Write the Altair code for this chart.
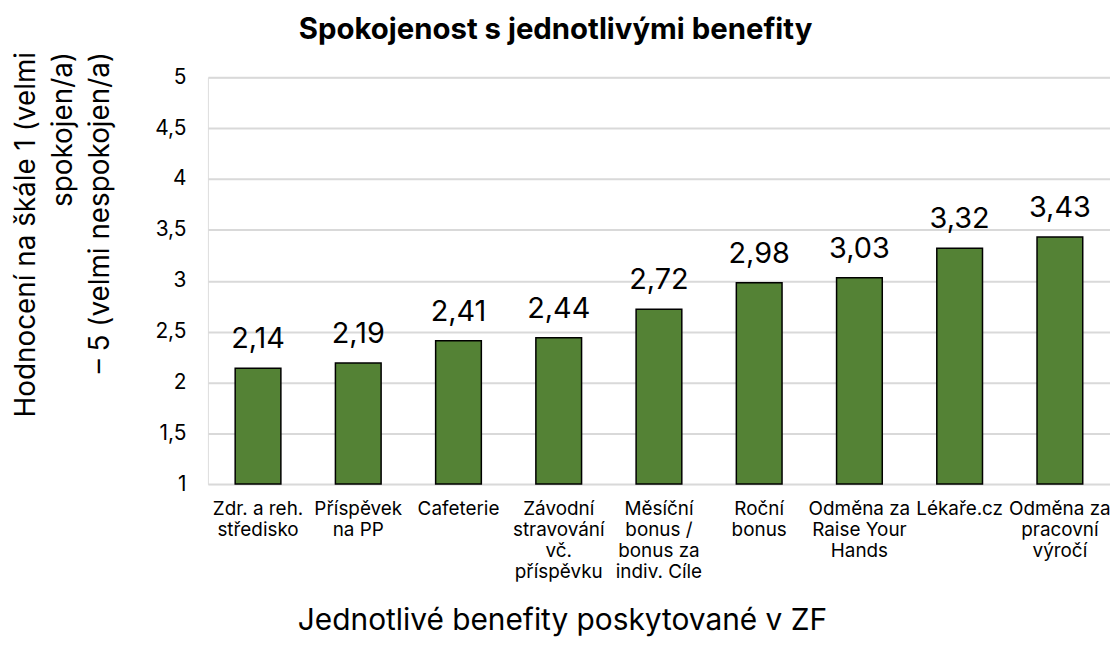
import altair as alt
import pandas as pd

categories = [
    "Zdr. a reh.\nstředisko",
    "Příspěvek\nna PP",
    "Cafeterie",
    "Závodní\nstravování\nvč.\npříspěvku",
    "Měsíční\nbonus /\nbonus za\nindiv. Cíle",
    "Roční\nbonus",
    "Odměna za\nRaise Your\nHands",
    "Lékaře.cz",
    "Odměna za\npracovní\nvýročí",
]
values = [2.14, 2.19, 2.41, 2.44, 2.72, 2.98, 3.03, 3.32, 3.43]
y_ticks = [1, 1.5, 2, 2.5, 3, 3.5, 4, 4.5, 5]

df = pd.DataFrame({"cat": categories, "val": values})

FONT = "Inter"
W, H = 907, 409

x = alt.X(
    "cat:N",
    sort=categories,
    scale=alt.Scale(paddingInner=0.544, paddingOuter=0.272),
    axis=alt.Axis(
        title="Jednotlivé benefity poskytované v ZF",
        titleFont=FONT,
        titleFontSize=30,
        titleFontWeight="normal",
        titleColor="#000000",
        titleX=356,
        titleY=146,
        titleBaseline="alphabetic",
        titleAnchor="start",
        titleAlign="center",
        labelExpr="split(datum.value, '\\n')",
        labelAngle=0,
        labelFont=FONT,
        labelFontSize=19,
        labelLineHeight=21,
        labelColor="#000000",
        labelPadding=16,
        labelBaseline="top",
        labelLimit=0,
        labelOverlap=False,
        labelBound=False,
        ticks=False,
        domain=False,
        grid=False,
    ),
)

y = alt.Y(
    "val:Q",
    scale=alt.Scale(domain=[1, 5], nice=False, zero=False),
    axis=alt.Axis(
        title=["Hodnocení na škále 1 (velmi", "spokojen/a)", "– 5 (velmi nespokojen/a)"],
        titleFont=FONT,
        titleFontSize=28,
        titleFontWeight="normal",
        titleColor="#000000",
        titleAngle=-90,
        titleAlign="right",
        titleBaseline="top",
        titleLineHeight=37,
        titleX=-196,
        titleY=-26,
        titleAnchor="start",
        values=y_ticks,
        labelExpr="replace(format(datum.value, '~g'), '.', ',')",
        labelFont=FONT,
        labelFontSize=21,
        labelColor="#000000",
        labelPadding=22,
        ticks=False,
        domain=False,
        grid=True,
        gridColor="#d9d9d9",
        gridWidth=2,
    ),
)

bars = alt.Chart(df).mark_bar(
    color="#548235", stroke="#000000", strokeWidth=1.5
).encode(x=x, y=y, y2=alt.datum(1))

labels = alt.Chart(df).transform_calculate(
    lab="replace(format(datum.val, '.2f'), '.', ',')"
).mark_text(
    font=FONT, fontSize=29, color="#000000", baseline="alphabetic", dy=-20
).encode(
    x=alt.X("cat:N", sort=categories),
    y=alt.Y("val:Q"),
    text="lab:N",
)

chart = (
    alt.layer(bars, labels)
    .properties(
        width=W,
        height=H,
        title=alt.TitleParams(
            "Spokojenost s jednotlivými benefity",
            font=FONT,
            fontSize=29.5,
            fontWeight="bold",
            color="#000000",
            anchor="middle",
            frame="group",
            dx=-104,
            offset=6,
        ),
        autosize=alt.AutoSizeParams(type="none"),
        padding={"left": 201, "top": 68, "right": 0, "bottom": 152},
    )
    .configure_view(stroke=None)
    .configure(background="white")
)

chart.save("out.html", embed_options={"renderer": "svg", "actions": False})
